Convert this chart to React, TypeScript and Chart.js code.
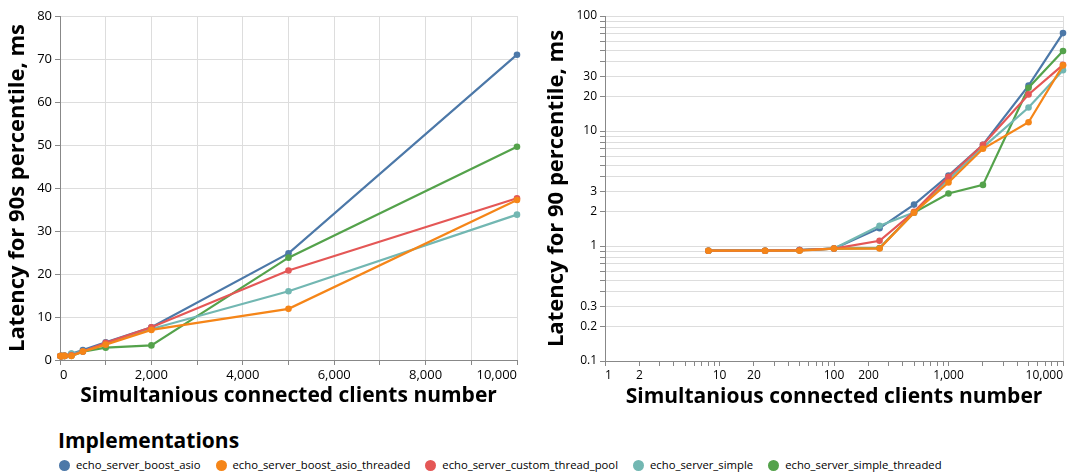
import React, { useEffect, useRef } from 'react';
import { Chart, registerables } from 'chart.js';

Chart.register(...registerables);

// ---- data ----
const clients = [8, 25, 50, 100, 250, 500, 1000, 2000, 5000, 10000];

const boostAsio = [0.91, 0.91, 0.92, 0.95, 1.43, 2.29, 4.1, 7.6, 24.8, 71.0];
const boostAsioThreaded = [0.91, 0.91, 0.91, 0.95, 0.95, 1.95, 3.57, 7.0, 11.9, 37.2];
const customThreadPool = [0.91, 0.91, 0.92, 0.95, 1.11, 1.98, 4.0, 7.6, 20.8, 37.6];
const simple = [0.91, 0.91, 0.92, 0.95, 1.5, 1.95, 3.8, 7.2, 16.0, 33.8];
const simpleThreaded = [0.91, 0.91, 0.92, 0.95, 0.96, 1.95, 2.86, 3.4, 23.8, 49.6];

const seriesNames = [
  'echo_server_boost_asio',
  'echo_server_boost_asio_threaded',
  'echo_server_custom_thread_pool',
  'echo_server_simple',
  'echo_server_simple_threaded',
];
const seriesValues = [boostAsio, boostAsioThreaded, customThreadPool, simple, simpleThreaded];
const seriesColors = ['#4c78a8', '#f58518', '#e45756', '#72b7b2', '#54a24b'];
const seriesOrder = [4, 0, 1, 2, 3];

const linearYMax = 80;
const linearYStep = 10;
const linearXMax = 10000;
const linearXStep = 1000;
const linearXLabelStep = 2000;

const logYMin = 0.1;
const logYMax = 100;
const logYLabels = [0.1, 0.2, 0.3, 1, 2, 3, 10, 20, 30, 100];
const logXMin = 1;
const logXMax = 10000;
const logXLabels = [1, 2, 10, 20, 100, 200, 1000, 10000];

const leftYTitle = 'Latency for 90s percentile, ms';
const rightYTitle = 'Latency for 90 percentile, ms';
const xTitle = 'Simultanious connected clients number';
const legendTitle = 'Implementations';

// ---- helpers ----
const FONT = "'Open Sans', 'DejaVu Sans', sans-serif";
const fmt = (v: number) => v.toLocaleString('en-US', { maximumFractionDigits: 2 });

function logTicks(min: number, max: number): number[] {
  const out: number[] = [];
  const e0 = Math.round(Math.log10(min));
  const e1 = Math.round(Math.log10(max));
  for (let e = e0; e <= e1; e++) {
    for (let m = 1; m <= 9; m++) {
      const v = m * Math.pow(10, e);
      if (v <= max * 1.0000001) out.push(v);
    }
  }
  return out;
}

function matchLabel(value: number, labels: number[]): string {
  const hit = labels.find((l) => Math.abs(l - value) / l < 1e-6);
  return hit === undefined ? '' : fmt(hit);
}

function makeDatasets() {
  return seriesNames.map((name, i) => ({
    label: name,
    data: clients.map((x, j) => ({ x, y: seriesValues[i][j] })),
    borderColor: seriesColors[i],
    backgroundColor: seriesColors[i],
    pointBackgroundColor: seriesColors[i],
    pointBorderWidth: 0,
    pointRadius: 3.3,
    borderWidth: 2.2,
    tension: 0,
    clip: false as any,
    order: seriesOrder[i],
  }));
}

const xTitleFont = { family: FONT, size: 21, weight: 'bold' as const };
const yTitleFont = { family: FONT, size: 22, weight: 'bold' as const };

function LeftChart() {
  const ref = useRef<HTMLCanvasElement>(null);
  useEffect(() => {
    const chart = new Chart(ref.current!, {
      type: 'line',
      data: { datasets: makeDatasets() as any },
      options: {
        animation: false,
        responsive: false,
        devicePixelRatio: 1,
        layout: { padding: { top: 16, right: 23, bottom: 0, left: 0 } },
        plugins: { legend: { display: false }, tooltip: { enabled: false } },
        scales: {
          x: {
            type: 'linear',
            min: 0,
            max: linearXMax,
            afterFit: (s: any) => { s.height = 60; },
            ticks: {
              stepSize: linearXStep,
              autoSkip: false,
              maxRotation: 0,
              minRotation: 0,
              align: 'inner',
              padding: 2,
              color: '#000',
              font: { family: FONT, size: 13 },
              callback: (v: any) => (Number(v) % linearXLabelStep === 0 ? fmt(Number(v)) : ''),
            },
            grid: { color: '#ddd', tickColor: '#888', tickLength: 5, lineWidth: 1 },
            border: { color: '#888', width: 1 },
            title: { display: true, text: xTitle, color: '#000', font: xTitleFont, padding: { top: 0, bottom: 11 } },
          },
          y: {
            type: 'linear',
            min: 0,
            max: linearYMax,
            afterFit: (s: any) => { s.width = 60; },
            ticks: {
              stepSize: linearYStep,
              padding: 3,
              color: '#000',
              font: { family: FONT, size: 13 },
            },
            grid: { color: '#ddd', tickColor: '#888', tickLength: 5, lineWidth: 1 },
            border: { color: '#888', width: 1 },
            title: { display: true, text: leftYTitle, color: '#000', font: yTitleFont, padding: { top: 5, bottom: 0 } },
          },
        },
      },
    });
    return () => chart.destroy();
  }, []);
  return <canvas ref={ref} width={540} height={420} style={{ display: 'block' }} />;
}

function RightChart() {
  const ref = useRef<HTMLCanvasElement>(null);
  useEffect(() => {
    const chart = new Chart(ref.current!, {
      type: 'line',
      data: { datasets: makeDatasets() as any },
      options: {
        animation: false,
        responsive: false,
        devicePixelRatio: 1,
        layout: { padding: { top: 16, right: 6, bottom: 0, left: 0 } },
        plugins: { legend: { display: false }, tooltip: { enabled: false } },
        scales: {
          x: {
            type: 'logarithmic',
            min: logXMin,
            max: logXMax,
            afterFit: (s: any) => { s.height = 59; },
            afterBuildTicks: (s: any) => { s.ticks = logTicks(logXMin, logXMax).map((value) => ({ value })); },
            ticks: {
              autoSkip: false,
              maxRotation: 0,
              minRotation: 0,
              align: 'inner',
              padding: 2,
              color: '#000',
              font: { family: FONT, size: 12 },
              callback: (v: any) => matchLabel(Number(v), logXLabels),
            },
            grid: {
              color: (ctx: any) => (ctx.tick && Math.abs(ctx.tick.value - logXMax) < 1e-6 ? '#ddd' : 'rgba(0,0,0,0)'),
              tickColor: '#888',
              tickLength: 5,
              lineWidth: 1,
            },
            border: { color: '#888', width: 1 },
            title: { display: true, text: xTitle, color: '#000', font: xTitleFont, padding: { top: 0, bottom: 10 } },
          },
          y: {
            type: 'logarithmic',
            min: logYMin,
            max: logYMax,
            afterFit: (s: any) => { s.width = 65; },
            afterBuildTicks: (s: any) => { s.ticks = logTicks(logYMin, logYMax).map((value) => ({ value })); },
            ticks: {
              autoSkip: false,
              padding: 3,
              color: '#000',
              font: { family: FONT, size: 12 },
              callback: (v: any) => matchLabel(Number(v), logYLabels),
            },
            grid: { color: '#ddd', tickColor: '#888', tickLength: 5, lineWidth: 1 },
            border: { color: '#888', width: 1 },
            title: { display: true, text: rightYTitle, color: '#000', font: yTitleFont, padding: { top: 4, bottom: 0 } },
          },
        },
      },
    });
    return () => chart.destroy();
  }, []);
  return <canvas ref={ref} width={529} height={420} style={{ display: 'block' }} />;
}

function Legend() {
  return (
    <div style={{ position: 'absolute', left: 58, top: 426, fontFamily: FONT, color: '#000' }}>
      <div style={{ fontSize: 21, fontWeight: 'bold', lineHeight: '28px' }}>{legendTitle}</div>
      <div style={{ display: 'flex', alignItems: 'center', marginTop: 3, height: 16 }}>
        {seriesNames.map((name, i) => (
          <div key={name} style={{ display: 'flex', alignItems: 'center', marginRight: 14 }}>
            <span
              style={{
                display: 'inline-block',
                width: 11,
                height: 11,
                borderRadius: '50%',
                background: seriesColors[i],
                marginLeft: 1,
                marginRight: 6,
              }}
            />
            <span style={{ fontSize: 11.3, lineHeight: '14px', whiteSpace: 'nowrap' }}>{name}</span>
          </div>
        ))}
      </div>
    </div>
  );
}

export default function App() {
  return (
    <div style={{ position: 'absolute', left: 0, top: 0, width: 1069, height: 472, background: '#fff' }}>
      <div style={{ position: 'absolute', left: 0, top: 0 }}>
        <LeftChart />
      </div>
      <div style={{ position: 'absolute', left: 540, top: 0 }}>
        <RightChart />
      </div>
      <Legend />
    </div>
  );
}
